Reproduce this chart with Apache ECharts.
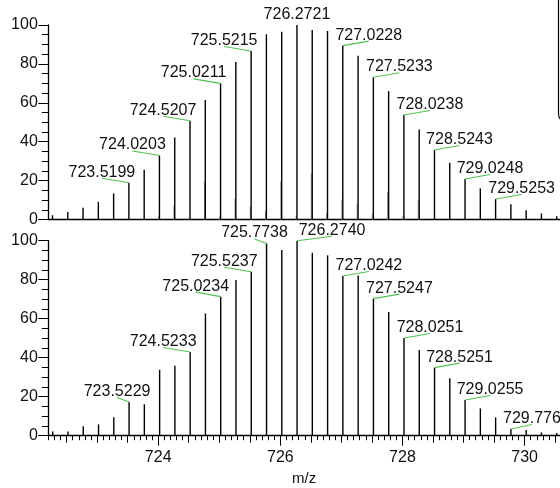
<!DOCTYPE html>
<html>
<head>
<meta charset="utf-8">
<script src="https://cdn.jsdelivr.net/npm/echarts@6/dist/echarts.min.js"></script>
<style>html,body{margin:0;padding:0;background:#fff;}#chart{width:560px;height:488px;}</style>
</head>
<body>
<div id="chart"></div>
<script>
// ---------------- DATA ----------------
const topMz = [722.2689, 722.5191, 722.7693, 723.0195, 723.2697, 723.5199, 723.7701, 724.0203, 724.2705, 724.5207,
  724.7709, 725.0211, 725.2713, 725.5215, 725.7717, 726.0219, 726.2721, 726.5224, 726.7726, 727.0228,
  727.2730, 727.5233, 727.7735, 728.0238, 728.2740, 728.5243, 728.7745, 729.0248, 729.2750, 729.5253,
  729.7755, 730.0258, 730.2760, 730.5263];
const topIntensity = [2.2, 3.8, 6.0, 9.1, 13.4, 18.9, 25.6, 32.9, 42.2, 50.8,
  61.4, 70.0, 81.0, 86.6, 95.2, 96.5, 100, 97.4, 96.9, 89.4,
  84.2, 73.1, 66.0, 53.7, 46.3, 35.7, 29.2, 20.8, 16.0, 10.5,
  7.9, 4.8, 3.1, 1.7];
const topMinorMz = [724.008, 724.258, 724.508, 724.758, 725.008, 725.258, 725.508, 725.758, 726.008,
  726.258, 726.508, 726.758, 727.008, 727.258, 727.508, 727.758, 728.008, 728.258];
const topMinorIntensity = [2.0, 7.2, 1.0, 19.2, 1.7, 10.6, 6.5, 4.3, 19.7,
  1.7, 23.6, 3.0, 10.3, 8.0, 2.9, 14.0, 1.7, 9.9];
const topLabelMz = [723.5199, 724.0203, 724.5207, 725.0211, 725.5215, 726.2721, 727.0228, 727.5233, 728.0238, 728.5243, 729.0248, 729.5253];
const topLabelText = ["723.5199", "724.0203", "724.5207", "725.0211", "725.5215", "726.2721", "727.0228", "727.5233", "728.0238", "728.5243", "729.0248", "729.5253"];

const bottomMz = [722.2720, 722.5222, 722.7724, 723.0226, 723.2727, 723.5229, 723.7730, 724.0231, 724.2732, 724.5233,
  724.7733, 725.0234, 725.2735, 725.5237, 725.7738, 726.0239, 726.2740, 726.5240, 726.7741, 727.0242,
  727.2744, 727.5247, 727.7749, 728.0251, 728.2751, 728.5251, 728.7753, 729.0255, 729.2757, 729.5258,
  729.7760, 730.0262, 730.2764, 730.5266];
const bottomIntensity = [2.2, 2.2, 4.8, 5.8, 9.4, 17.3, 16.1, 33.8, 35.9, 42.9,
  62.7, 71.3, 79.8, 84.1, 98.6, 95.2, 100, 93.8, 92.5, 81.9,
  82.1, 70.3, 63.4, 50.1, 43.9, 34.9, 29.4, 18.3, 14.0, 9.4,
  3.4, 2.9, 1.7, 1.4];
const bottomLabelMz = [723.5229, 724.5233, 725.0234, 725.5237, 725.7738, 726.2740, 727.0242, 727.5247, 728.0251, 728.5251, 729.0255, 729.7760];
const bottomLabelText = ["723.5229", "724.5233", "725.0234", "725.5237", "725.7738", "726.2740", "727.0242", "727.5247", "728.0251", "728.5251", "729.0255", "729.776"];

const yTickLabels = [0, 20, 40, 60, 80, 100];
const xTickLabels = [724, 726, 728, 730];
const xAxisTitle = "m/z";

// ---------------- LAYOUT / STYLE ----------------
const topLabelDx = [-27, -27, -27, -27, -27, 0, 26, 26, 26, 25, 25, 26];
const bottomLabelDx = [-12, -27, -25, -27, -12, 35, 26, 26, 26, 25, 25, 21];
const FONT = '"Liberation Sans", Arial, Helvetica, sans-serif';
const X_MIN = 722.2, X_MAX = 730.58;

const midTicks = [], minorTicks = [];
for (let i = 0; i <= 16; i++) midTicks.push(+(722.5 + i * 0.5).toFixed(1));
for (let i = 0; i <= 83; i++) minorTicks.push(+(722.2 + i * 0.1).toFixed(1));

function zip(a, b) { return a.map((v, i) => [v, b[i]]); }
function labelRows(mzArr, intArr, labMz, dxArr) {
  return labMz.map((m, i) => {
    let best = 0;
    mzArr.forEach((v, j) => { if (Math.abs(v - m) < Math.abs(mzArr[best] - m)) best = j; });
    return [m, intArr[best], dxArr[i], i];
  });
}
const topLabels = labelRows(topMz, topIntensity, topLabelMz, topLabelDx);
const bottomLabels = labelRows(bottomMz, bottomIntensity, bottomLabelMz, bottomLabelDx);

function peakRenderer(color, width) {
  return function (params, api) {
    const p0 = api.coord([api.value(0), 0]);
    const p1 = api.coord([api.value(0), api.value(1)]);
    return { type: 'line', shape: { x1: p0[0], y1: p0[1], x2: p1[0], y2: p1[1] },
      style: { stroke: color, lineWidth: width } };
  };
}
function labelRenderer(texts) {
  return function (params, api) {
    const p = api.coord([api.value(0), api.value(1)]);
    const dx = api.value(2);
    const ex = p[0] + dx, ey = p[1] - 4.5;
    const children = [];
    if (dx !== 0) children.push({ type: 'line', shape: { x1: p[0], y1: p[1], x2: ex, y2: ey },
      style: { stroke: '#52c152', lineWidth: 1.1 } });
    children.push({ type: 'text', x: ex, y: ey - 6,
      style: { text: texts[api.value(3)], font: '16px ' + FONT, fill: '#111', align: 'center', verticalAlign: 'middle' } });
    return { type: 'group', children };
  };
}

const yAxisCommon = {
  type: 'value', min: 0, max: 100, interval: 20,
  axisLine: { show: true, lineStyle: { color: '#000', width: 1.3 } },
  axisTick: { show: true, length: 10, lineStyle: { color: '#000', width: 1 } },
  minorTick: { show: true, splitNumber: 4, length: 6.5, lineStyle: { color: '#000', width: 1 } },
  axisLabel: { margin: 10.5, fontSize: 16, fontFamily: FONT, color: '#111',
    customValues: yTickLabels, formatter: v => String(v) },
  splitLine: { show: false }
};
const xBase = {
  type: 'value', min: X_MIN, max: X_MAX, position: 'bottom',
  splitLine: { show: false }
};

const chart = echarts.init(document.getElementById('chart'), null, { renderer: 'canvas' });
chart.setOption({
  animation: false,
  backgroundColor: '#fff',
  grid: [
    { left: 48.3, right: 0, top: 25, height: 194.5, outerBoundsMode: 'none', containLabel: false },
    { left: 48.3, right: 0, top: 240.7, height: 195, outerBoundsMode: 'none', containLabel: false }
  ],
  xAxis: [
    Object.assign({}, xBase, { gridIndex: 0, axisLine: { show: true, onZero: false, lineStyle: { color: '#000', width: 1.3 } },
      axisTick: { show: false }, axisLabel: { show: false } }),
    Object.assign({}, xBase, { gridIndex: 1, axisLine: { show: false, onZero: false },
      axisTick: { show: true, length: 7, customValues: midTicks, lineStyle: { color: '#000', width: 1 } },
      axisLabel: { show: false } }),
    Object.assign({}, xBase, { gridIndex: 1, axisLine: { show: false, onZero: false },
      axisTick: { show: true, length: 4.5, customValues: minorTicks, lineStyle: { color: '#000', width: 1 } },
      axisLabel: { show: false } }),
    Object.assign({}, xBase, { gridIndex: 1, axisLine: { show: true, onZero: false, lineStyle: { color: '#000', width: 1.3 } },
      axisTick: { show: true, length: 10, customValues: xTickLabels, lineStyle: { color: '#000', width: 1 } },
      axisLabel: { show: true, margin: 14, fontSize: 16, fontFamily: FONT, color: '#111', customValues: xTickLabels, formatter: v => String(v) },
      name: xAxisTitle, nameLocation: 'middle', nameGap: 36, nameTextStyle: { fontSize: 15, fontFamily: FONT, color: '#111' } })
  ],
  yAxis: [
    Object.assign({}, yAxisCommon, { gridIndex: 0 }),
    Object.assign({}, yAxisCommon, { gridIndex: 1 })
  ],
  series: [
    { type: 'custom', xAxisIndex: 0, yAxisIndex: 0, clip: false, data: zip(topMinorMz, topMinorIntensity),
      renderItem: peakRenderer('#8a8a8a', 1), encode: { x: 0, y: 1 } },
    { type: 'custom', xAxisIndex: 0, yAxisIndex: 0, clip: false, data: zip(topMz, topIntensity),
      renderItem: peakRenderer('#000', 1.4), encode: { x: 0, y: 1 } },
    { type: 'custom', xAxisIndex: 0, yAxisIndex: 0, clip: false, data: topLabels,
      renderItem: labelRenderer(topLabelText), encode: { x: 0, y: 1 } },
    { type: 'custom', xAxisIndex: 3, yAxisIndex: 1, clip: false, data: zip(bottomMz, bottomIntensity),
      renderItem: peakRenderer('#000', 1.4), encode: { x: 0, y: 1 } },
    { type: 'custom', xAxisIndex: 3, yAxisIndex: 1, clip: false, data: bottomLabels,
      renderItem: labelRenderer(bottomLabelText), encode: { x: 0, y: 1 } }
  ],
  graphic: [
    { type: 'rect', shape: { x: 558.5, y: -20, width: 60, height: 143.5, r: 10 },
      style: { fill: 'none', stroke: '#000', lineWidth: 1.2 }, silent: true }
  ]
});
</script>
</body>
</html>
